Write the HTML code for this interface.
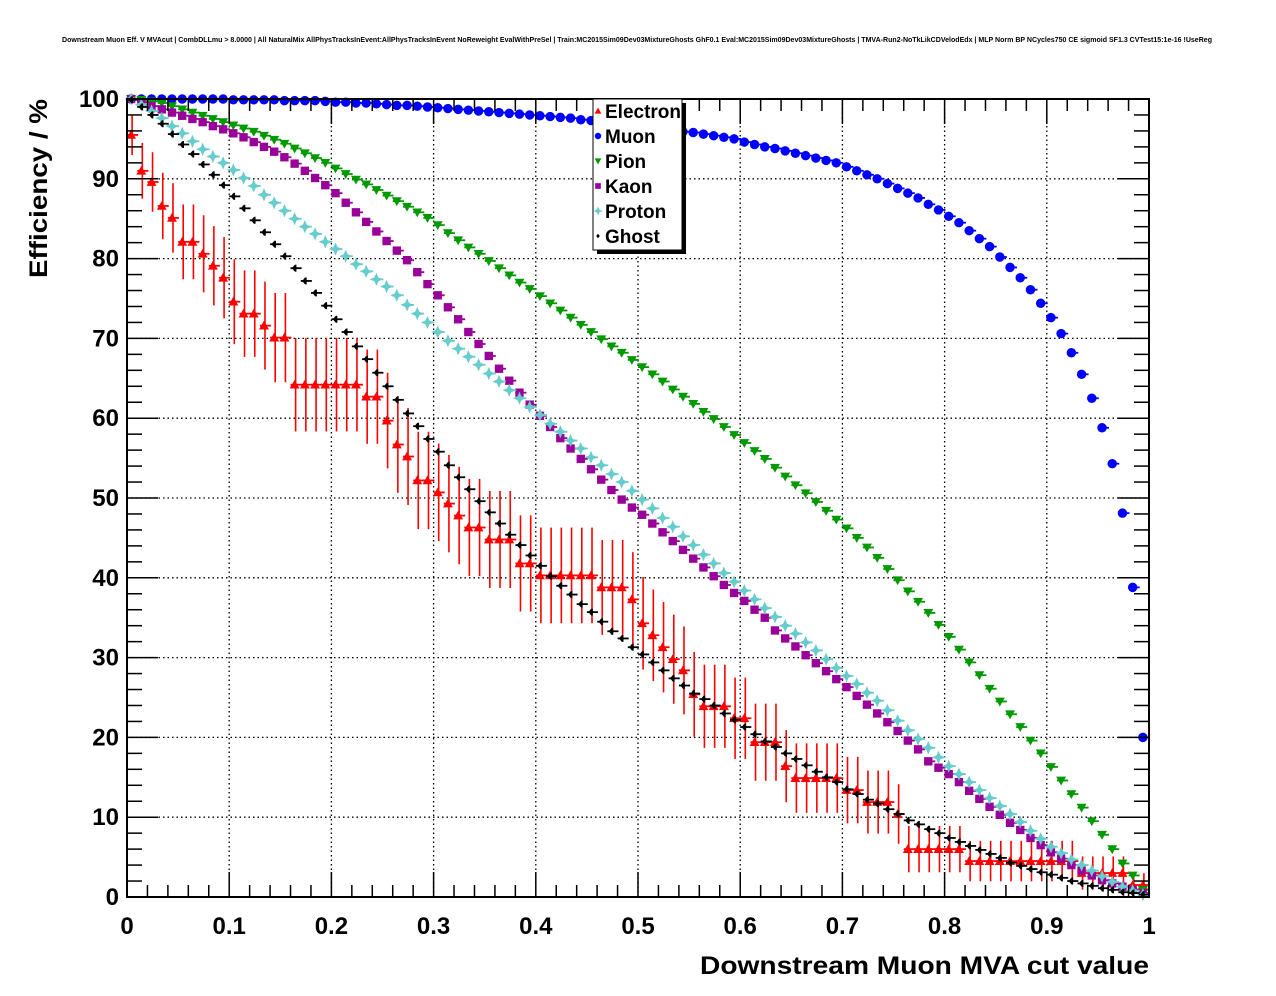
<!DOCTYPE html>
<html><head><meta charset="utf-8"><title>Downstream Muon Efficiency</title>
<style>
html,body{margin:0;padding:0;background:#fff;}
svg{display:block;font-family:"Liberation Sans",Arial,sans-serif;}
</style></head>
<body>
<svg id="chart" width="1276" height="996" viewBox="0 0 1276 996" xmlns="http://www.w3.org/2000/svg">
<rect x="0" y="0" width="1276" height="996" fill="#fff"/>
<text x="637" y="42" font-size="7" font-weight="bold" text-anchor="middle" textLength="1150" lengthAdjust="spacingAndGlyphs">Downstream Muon Eff. V MVAcut | CombDLLmu &gt; 8.0000 | All NaturalMix AllPhysTracksInEvent:AllPhysTracksInEvent NoReweight EvalWithPreSel | Train:MC2015Sim09Dev03MixtureGhosts GhF0.1 Eval:MC2015Sim09Dev03MixtureGhosts | TMVA-Run2-NoTkLikCDVelodEdx | MLP Norm BP NCycles750 CE sigmoid SF1.3 CVTest15:1e-16 !UseReg</text>
<g id="grid"></g>
<g id="series"></g>
<g id="axes"></g>
<text x="1149" y="974" font-size="25" font-weight="bold" text-anchor="end" textLength="449" lengthAdjust="spacingAndGlyphs">Downstream Muon MVA cut value</text>
<text transform="translate(47,99) rotate(-90)" font-size="25" font-weight="bold" text-anchor="end" textLength="179" lengthAdjust="spacingAndGlyphs">Efficiency / %</text>
<g id="legend"></g>
</svg>
<script>
const xTicks = [0,0.1,0.2,0.3,0.4,0.5,0.6,0.7,0.8,0.9,1];
const xTickLabels = ["0","0.1","0.2","0.3","0.4","0.5","0.6","0.7","0.8","0.9","1"];
const yTicks = [0,10,20,30,40,50,60,70,80,90,100];
const yTickLabels = ["0","10","20","30","40","50","60","70","80","90","100"];
const seriesNames = ["Electron","Muon","Pion","Kaon","Proton","Ghost"];
const electronN = 67;
const electron = [95.5,91.0,89.6,86.6,85.1,82.1,82.1,80.6,79.1,77.6,
74.6,73.1,73.1,71.6,70.1,70.1,64.2,64.2,64.2,64.2,
64.2,64.2,64.2,62.7,62.7,59.7,56.7,55.2,52.2,52.2,
50.7,49.3,47.8,46.3,46.3,44.8,44.8,44.8,41.8,41.8,
40.3,40.3,40.3,40.3,40.3,40.3,38.8,38.8,38.8,37.3,
34.3,32.8,31.3,29.8,28.4,25.4,23.9,23.9,23.9,22.4,
22.4,19.4,19.4,19.4,16.4,14.9,14.9,14.9,14.9,14.9,
13.4,13.4,11.9,11.9,11.9,10.4,6.0,6.0,6.0,6.0,
6.0,6.0,4.5,4.5,4.5,4.5,4.5,4.5,4.5,4.5,
4.5,4.5,4.5,3.0,3.0,3.0,3.0,3.0,1.5,1.5];
const muon = [100,100,100,100,100,100,100,100,100,100,
99.9,99.9,99.9,99.9,99.9,99.8,99.8,99.8,99.8,99.7,
99.6,99.6,99.5,99.5,99.4,99.3,99.2,99.2,99.1,99.0,
98.9,98.8,98.7,98.6,98.5,98.4,98.3,98.2,98.1,98.0,
97.9,97.8,97.7,97.6,97.4,97.3,97.2,97.1,96.9,96.8,
96.6,96.5,96.3,96.1,95.9,95.8,95.6,95.4,95.2,95.0,
94.6,94.3,94.0,93.8,93.5,93.2,92.9,92.6,92.3,92.0,
91.5,91.0,90.5,90.0,89.4,88.8,88.2,87.6,86.8,86.1,
85.3,84.5,83.5,82.5,81.5,80.2,78.9,77.6,76.1,74.4,
72.6,70.6,68.2,65.5,62.5,58.8,54.3,48.1,38.8,20.0];
const pion = [100,99.9,99.7,99.5,99.1,98.7,98.3,97.9,97.5,97.1,
96.7,96.3,95.9,95.4,94.9,94.4,93.8,93.2,92.6,92.0,
91.3,90.6,89.9,89.3,88.6,87.9,87.2,86.5,85.8,85.1,
84.2,83.2,82.3,81.4,80.6,79.7,78.8,77.9,77.0,76.2,
75.3,74.4,73.5,72.6,71.7,70.8,69.9,69.0,68.2,67.3,
66.4,65.5,64.6,63.6,62.7,61.8,60.8,59.9,58.9,57.9,
56.9,55.9,54.9,53.8,52.7,51.6,50.6,49.5,48.4,47.3,
46.2,45.0,43.8,42.5,41.1,39.7,38.3,37.0,35.6,34.1,
32.6,31.0,29.4,27.8,26.1,24.5,22.9,21.3,19.6,18.0,
16.3,14.6,12.9,11.2,9.5,7.8,6.0,4.2,2.7,0.9];
const kaon = [100,99.6,99.1,98.7,98.3,97.9,97.5,97.1,96.6,96.2,
95.7,95.2,94.6,94.0,93.4,92.7,91.9,91.0,90.1,89.2,
88.2,87.0,85.8,84.6,83.4,82.2,81.0,79.8,78.3,76.8,
75.4,73.9,72.4,70.8,69.3,67.8,66.2,64.7,63.2,61.7,
60.3,58.9,57.5,56.2,54.9,53.6,52.3,51.0,49.8,48.8,
47.9,46.8,45.7,44.6,43.5,42.4,41.3,40.2,39.1,38.1,
37.1,36.0,35.0,33.4,32.4,31.4,30.3,29.3,28.3,27.3,
26.3,25.2,24.1,23.0,21.9,20.8,19.6,18.5,17.0,16.2,
15.4,14.4,13.3,12.3,11.3,10.3,9.3,8.4,7.4,6.5,
5.6,4.8,4.0,3.3,2.7,2.1,1.7,1.3,0.9,0.5];
const proton = [100,99.3,98.5,97.6,96.6,95.7,94.7,93.7,92.8,92.0,
91.1,90.1,89.1,88.0,87.0,86.0,85.0,84.0,83.1,82.1,
81.2,80.3,79.3,78.4,77.4,76.5,75.4,74.2,73.1,72.0,
70.8,69.7,68.7,67.7,66.7,65.6,64.6,63.5,62.5,61.4,
60.4,59.3,58.3,57.2,56.2,55.1,54.1,53.0,52.0,50.9,
49.8,48.7,47.5,46.4,45.2,44.1,42.9,41.8,40.6,39.5,
38.4,37.3,36.2,35.1,34.0,33.0,31.9,30.9,29.8,28.7,
27.7,26.7,25.6,24.6,23.4,22.1,20.9,19.8,18.7,17.5,
16.4,15.4,14.4,13.4,12.4,11.4,10.4,9.4,8.3,7.3,
6.3,5.5,4.7,4.0,3.3,2.6,1.9,1.3,0.8,0.3];
const ghost = [99.9,99.0,98.0,96.9,95.6,94.3,93.1,91.8,90.5,89.2,
87.8,86.3,84.8,83.3,81.8,80.3,78.8,77.2,75.7,74.1,
72.4,70.8,69.0,67.4,65.7,64.0,62.3,60.6,59.0,57.4,
55.8,54.1,52.6,51.1,49.6,48.2,46.8,45.4,44.1,42.8,
41.5,40.2,39.0,37.9,36.7,35.7,34.5,33.3,32.4,31.3,
30.4,29.4,28.4,27.4,26.5,25.5,24.8,24.0,23.0,22.2,
21.3,20.4,19.5,18.8,18.0,17.3,16.5,15.7,15.0,14.4,
13.5,12.9,12.2,11.7,11.0,10.4,9.6,9.1,8.5,8.0,
7.4,6.9,6.4,5.9,5.4,4.9,4.3,3.9,3.5,3.1,
2.8,2.4,2.0,1.7,1.4,1.1,0.9,0.6,0.5,0.3];

const NS = "http://www.w3.org/2000/svg";
const X0 = 127, X1 = 1149, Y0 = 897, Y1 = 99;
function xs(v){ return X0 + v*(X1-X0); }
function ys(v){ return Y0 - v/100*(Y0-Y1); }
function binCenter(i){ return 0.005 + 0.01*i; }
function mk(tag, attrs, parent){
  const e = document.createElementNS(NS, tag);
  for (const k in attrs) e.setAttribute(k, attrs[k]);
  parent.appendChild(e);
  return e;
}
const grid = document.getElementById('grid');
const axes = document.getElementById('axes');
const ser = document.getElementById('series');
const leg = document.getElementById('legend');

xTicks.forEach((t) => {
  if (t <= 0 || t >= 1) return;
  const l = mk('line', {x1:xs(t), x2:xs(t), y1:Y1, y2:Y0, stroke:'#000', 'stroke-width':1.3, 'stroke-dasharray':'1.5,3'}, grid);
  
  
});
yTicks.forEach((t) => {
  if (t <= 0 || t >= 100) return;
  const l = mk('line', {x1:X0, x2:X1, y1:ys(t), y2:ys(t), stroke:'#000', 'stroke-width':1.3, 'stroke-dasharray':'1.5,3'}, grid);
  
  
});

const frame = mk('rect', {x:X0, y:Y1, width:X1-X0, height:Y0-Y1, fill:'none', stroke:'#000', 'stroke-width':2}, axes);



for (let k = 0; k <= 50; k++) {
  const v = k*0.02;
  const major = (k % 5 === 0);
  const len = major ? 25 : 12;
  const b = mk('line', {x1:xs(v), x2:xs(v), y1:Y0, y2:Y0-len, stroke:'#000', 'stroke-width':1.5}, axes);
  
  
  const t = mk('line', {x1:xs(v), x2:xs(v), y1:Y1, y2:Y1+len, stroke:'#000', 'stroke-width':1.5}, axes);
  
  
}
for (let k = 0; k <= 50; k++) {
  const v = k*2;
  const major = (k % 5 === 0);
  const len = major ? 31 : 15;
  const a = mk('line', {x1:X0, x2:X0+len, y1:ys(v), y2:ys(v), stroke:'#000', 'stroke-width':1.5}, axes);
  
  
  const b = mk('line', {x1:X1, x2:X1-len, y1:ys(v), y2:ys(v), stroke:'#000', 'stroke-width':1.5}, axes);
  
  
}
xTicks.forEach((t, i) => {
  const tx = mk('text', {x:xs(t), y:934, 'font-size':24, 'font-weight':'bold', 'text-anchor':'middle'}, axes);
  tx.textContent = xTickLabels[i];
  
  
});
yTicks.forEach((t, i) => {
  const tx = mk('text', {x:119, y:ys(t)+8, 'font-size':24, 'font-weight':'bold', 'text-anchor':'end'}, axes);
  tx.textContent = yTickLabels[i];
  
  
});

function marker(kind, cx, cy, color, parent, s){
  s = s || 1;
  let e;
  if (kind === 'tri-up') {
    e = mk('polygon', {points:`${cx-4.5*s},${cy+3.5*s} ${cx+4.5*s},${cy+3.5*s} ${cx},${cy-4.5*s}`, fill:color}, parent);
  } else if (kind === 'tri-down') {
    e = mk('polygon', {points:`${cx-4.5*s},${cy-3.5*s} ${cx+4.5*s},${cy-3.5*s} ${cx},${cy+4.5*s}`, fill:color}, parent);
  } else if (kind === 'circle') {
    e = mk('circle', {cx:cx, cy:cy, r:4.3*s, fill:color}, parent);
  } else if (kind === 'square') {
    e = mk('rect', {x:cx-3.8*s, y:cy-3.8*s, width:7.6*s, height:7.6*s, fill:color}, parent);
  } else if (kind === 'star') {
    const a = 6*s, b = 1.8*s;
    e = mk('polygon', {points:`${cx},${cy-a} ${cx+b},${cy-b} ${cx+a},${cy} ${cx+b},${cy+b} ${cx},${cy+a} ${cx-b},${cy+b} ${cx-a},${cy} ${cx-b},${cy-b}`, fill:color}, parent);
  } else if (kind === 'diamond') {
    const a = 3*s;
    e = mk('polygon', {points:`${cx},${cy-a} ${cx+a*0.8},${cy} ${cx},${cy+a} ${cx-a*0.8},${cy}`, fill:color}, parent);
  }
  return e;
}

const seriesDefs = [
  {name:'electron', values:electron, color:'#ff0000', kind:'tri-up', err:true},
  {name:'muon', values:muon, color:'#0000ff', kind:'circle'},
  {name:'pion', values:pion, color:'#009900', kind:'tri-down'},
  {name:'kaon', values:kaon, color:'#990099', kind:'square'},
  {name:'proton', values:proton, color:'#66cccc', kind:'star'},
  {name:'ghost', values:ghost, color:'#000000', kind:'diamond'}
];

seriesDefs.forEach((sd) => {
  const g = mk('g', {}, ser);
  
  
  sd.values.forEach((v, i) => {
    const cx = xs(binCenter(i)), cy = ys(v);
    const h = mk('line', {x1:cx-5.1, x2:cx+6, y1:cy, y2:cy, stroke:sd.color, 'stroke-width':1.8}, g);
    
    
    if (sd.err) {
      const p = v/100;
      const e = 100*Math.sqrt(Math.max(p*(1-p), 0)/electronN);
      const vl = mk('line', {x1:cx, x2:cx, y1:ys(Math.min(v+e,100)), y2:ys(Math.max(v-e,0)), stroke:sd.color, 'stroke-width':1.6}, g);
      
      
    } else if (sd.name === 'ghost') {
      const vl = mk('line', {x1:cx, x2:cx, y1:cy-3.5, y2:cy+3.5, stroke:sd.color, 'stroke-width':1.6}, g);
      
      
    }
    const m = marker(sd.kind, cx-1, cy, sd.color, g, 1.1);
    
    
  });
});

const shadow = mk('rect', {x:597, y:103, width:89, height:151, fill:'#000'}, leg);


const box = mk('rect', {x:593, y:99, width:89, height:151, fill:'#fff', stroke:'#000', 'stroke-width':1}, leg);


seriesDefs.forEach((sd, i) => {
  const cy = 111 + i*25;
  const m = marker(sd.kind, 598, cy, sd.color, leg, 0.75);
  
  
  const t = mk('text', {x:605, y:cy+7, 'font-size':19, 'font-weight':'bold'}, leg);
  t.textContent = seriesNames[i];
  
  
});
</script>
</body></html>
